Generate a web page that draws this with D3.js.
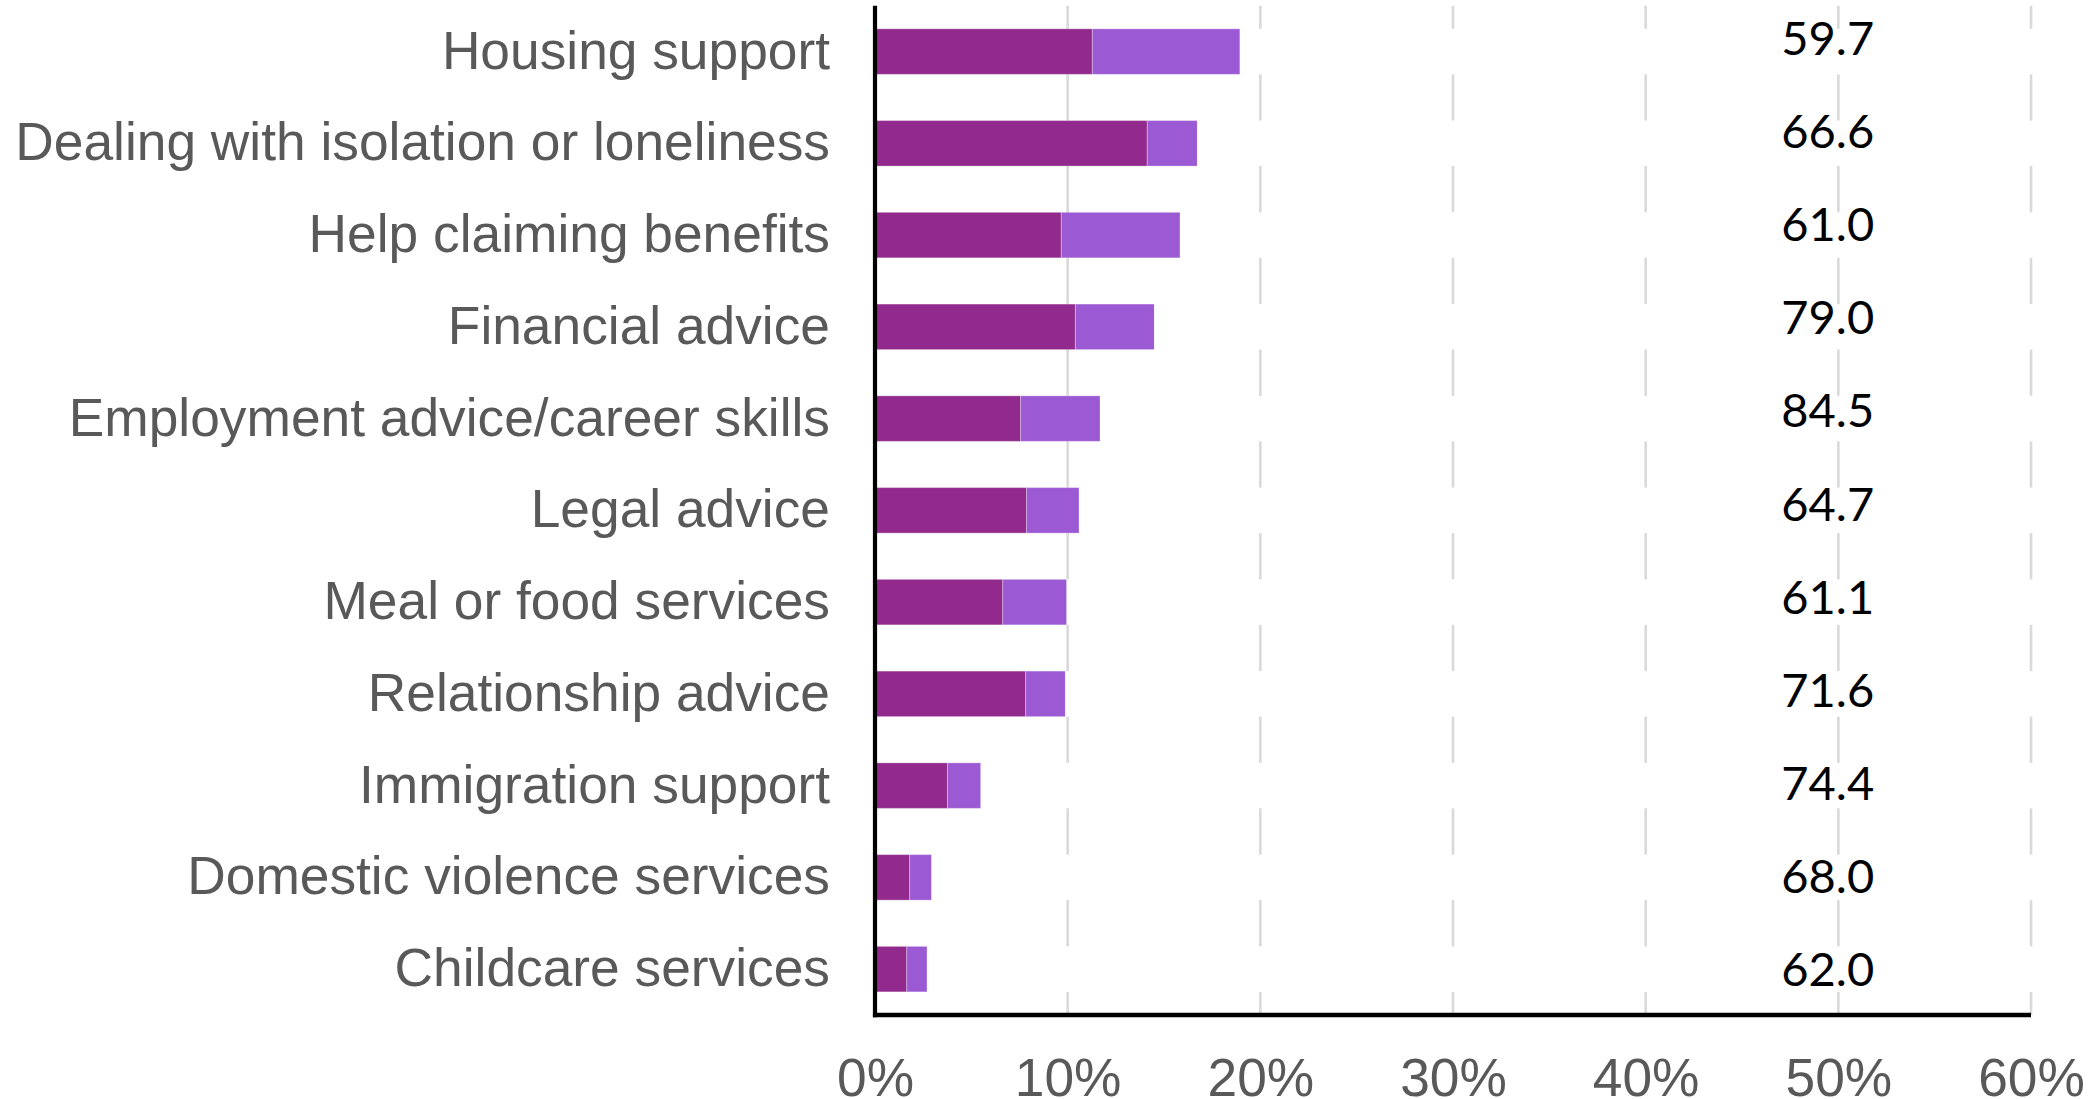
<!DOCTYPE html>
<html>
<head>
<meta charset="utf-8">
<script src="https://cdn.jsdelivr.net/npm/d3@7/dist/d3.min.js"></script>
<style>
  html, body { margin: 0; padding: 0; background: #ffffff; }
  svg { display: block; }
</style>
</head>
<body>
<svg id="chart" width="2093" height="1099"></svg>
<script>
// Support services: two stacked shares (%) per service, plus a score column.
const categories = [
  "Housing support",
  "Dealing with isolation or loneliness",
  "Help claiming benefits",
  "Financial advice",
  "Employment advice/career skills",
  "Legal advice",
  "Meal or food services",
  "Relationship advice",
  "Immigration support",
  "Domestic violence services",
  "Childcare services"
];
const primaryShare   = [11.28, 14.13, 9.67, 10.40, 7.56, 7.87, 6.63, 7.82, 3.76, 1.80, 1.65];
const secondaryShare = [7.66, 2.60, 6.16, 4.10, 4.12, 2.72, 3.32, 2.06, 1.73, 1.14, 1.05];
const scores         = [59.7, 66.6, 61.0, 79.0, 84.5, 64.7, 61.1, 71.6, 74.4, 68.0, 62.0];
const tickValues     = [0, 10, 20, 30, 40, 50, 60];

const colors = { primary: "#912A8C", secondary: "#9B59D3" };

// Layout
const svg = d3.select("#chart");
const plotLeft = 875, plotRight = 2031, plotTop = 5.7, plotBottom = 1015;
const scoreColumn = 49.45;   // x position (in %) of the score column

const x = d3.scaleLinear().domain([0, 60]).range([plotLeft, plotRight]);
const y = d3.scaleBand().domain(categories).range([plotTop, plotBottom])
  .paddingInner(0.504).paddingOuter(0.252);
const yScore = d3.scalePoint().domain(categories).range([38, 969]);

const rows = categories.map((c, i) => ({
  category: c,
  primary: primaryShare[i],
  secondary: secondaryShare[i],
  score: scores[i]
}));
rows.forEach(r => { r.rest = 60 - r.primary - r.secondary; });

const stack = d3.stack().keys(["primary", "secondary", "rest"]);
const series = stack(rows);

// Vertical gridlines
svg.append("g")
  .selectAll("line")
  .data(tickValues.filter(v => v > 0))
  .join("line")
  .attr("x1", d => x(d)).attr("x2", d => x(d))
  .attr("y1", plotTop).attr("y2", plotBottom)
  .attr("stroke", "#d9d9d9")
  .attr("stroke-width", 2.6);

// Stacked bars; the remainder row is white so gridlines break at every bar
const fills = { primary: colors.primary, secondary: colors.secondary, rest: "#ffffff" };
svg.append("g")
  .selectAll("g")
  .data(series)
  .join("g")
  .attr("fill", s => fills[s.key])
  .selectAll("rect")
  .data(s => s.map(d => ({ d, key: s.key })))
  .join("rect")
  .attr("x", o => x(o.d[0]))
  .attr("y", o => y(o.d.data.category))
  .attr("width", o => o.key === "rest" ? x(o.d[1]) - x(o.d[0]) + 2 : x(o.d[1]) - x(o.d[0]))
  .attr("height", y.bandwidth())
  .attr("stroke", o => o.key === "rest" ? "none" : "#ffffff")
  .attr("stroke-opacity", 0.3)
  .attr("stroke-width", 1);

// Score column
svg.append("g")
  .selectAll("text")
  .data(rows)
  .join("text")
  .attr("x", x(scoreColumn))
  .attr("y", d => yScore(d.category) + 17)
  .attr("text-anchor", "middle")
  .attr("font-family", "Lato, 'Open Sans', sans-serif")
  .attr("font-size", 47)
  .attr("fill", "#000000")
  .text(d => d3.format(".1f")(d.score));

// Category labels
const yAxis = d3.axisLeft(y).tickSize(0).tickPadding(45);
const gy = svg.append("g").attr("transform", `translate(${plotLeft},0)`).call(yAxis);
gy.select(".domain").remove();
gy.selectAll("text")
  .attr("font-family", "'Liberation Sans', Arial, sans-serif")
  .attr("font-size", 53.3)
  .attr("fill", "#595959")
  .attr("dy", null)
  .attr("dominant-baseline", "auto")
  .attr("transform", "translate(0,17)");

// Percent axis labels
const xAxis = d3.axisBottom(x).tickValues(tickValues).tickSize(0).tickPadding(0)
  .tickFormat(d => d + "%");
const gx = svg.append("g").attr("transform", `translate(0,${plotBottom})`).call(xAxis);
gx.select(".domain").remove();
gx.selectAll("text")
  .attr("font-family", "'Liberation Sans', Arial, sans-serif")
  .attr("font-size", 53.3)
  .attr("fill", "#595959")
  .attr("dy", null)
  .attr("y", 81);

// Axis lines
svg.append("line")
  .attr("x1", plotLeft).attr("x2", plotLeft)
  .attr("y1", plotTop).attr("y2", plotBottom + 2.2)
  .attr("stroke", "#000").attr("stroke-width", 4.2);
svg.append("line")
  .attr("x1", plotLeft - 2.1).attr("x2", plotRight)
  .attr("y1", plotBottom).attr("y2", plotBottom)
  .attr("stroke", "#000").attr("stroke-width", 4.4);
</script>
</body>
</html>
